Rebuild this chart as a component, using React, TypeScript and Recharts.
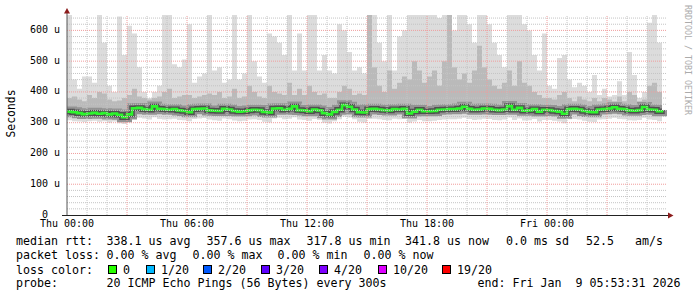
import { ComposedChart, Area, Line, XAxis, YAxis, ReferenceLine } from 'recharts'

// 15 minute slots from Thu 00:00, values in microseconds
const medianRtt = [
  336, 334, 331, 328, 330, 332, 329, 331, 327, 330, 326, 318, 327, 347, 348, 344, 342, 353, 345, 344, 342, 344, 340, 338,
  334, 344, 345, 346, 340, 339, 338, 345, 343, 338, 336, 337, 340, 342, 341, 335, 333, 346, 347, 342, 345, 353, 341, 340,
  337, 343, 340, 331, 327, 335, 342, 357, 352, 343, 334, 333, 344, 345, 343, 341, 340, 344, 343, 345, 330, 336, 342, 337,
  337, 338, 342, 343, 344, 344, 346, 352, 345, 342, 343, 346, 345, 342, 341, 343, 354, 342, 348, 339, 340, 344, 336, 342,
  341, 338, 336, 329, 344, 345, 343, 338, 335, 334, 343, 344, 346, 350, 345, 344, 340, 339, 341, 351, 343, 342, 337, 341
]
const maxRtt = [
  650, 440, 410, 450, 450, 430, 650, 560, 420, 400, 645, 520, 615, 590, 480, 400, 380, 400, 420, 650, 650, 490, 480, 505,
  620, 430, 450, 460, 650, 470, 480, 430, 440, 650, 440, 460, 650, 500, 450, 430, 590, 580, 560, 520, 650, 470, 590, 470,
  650, 650, 470, 520, 470, 460, 620, 600, 530, 470, 480, 460, 650, 650, 560, 500, 650, 470, 580, 600, 650, 650, 650, 650,
  650, 650, 640, 650, 650, 600, 650, 650, 620, 560, 650, 650, 620, 560, 520, 480, 650, 650, 650, 620, 600, 520, 470, 590,
  420, 410, 510, 520, 440, 415, 430, 420, 400, 455, 390, 410, 385, 390, 435, 390, 530, 455, 380, 400, 625, 650, 560, 550
]
const upperRtt = [
  380, 385, 375, 370, 390, 380, 400, 395, 375, 370, 372, 380, 390, 410, 385, 380, 375, 380, 385, 400, 410, 380, 385, 390,
  390, 380, 385, 390, 395, 390, 400, 380, 385, 410, 380, 385, 420, 400, 385, 380, 420, 400, 395, 390, 430, 390, 410, 390,
  420, 400, 390, 395, 380, 380, 400, 420, 410, 390, 395, 390, 650, 480, 420, 400, 470, 410, 430, 450, 440, 500, 470, 430,
  450, 470, 420, 500, 650, 480, 440, 460, 430, 470, 550, 480, 440, 420, 410, 430, 470, 420, 500, 430, 420, 400, 390, 380,
  380, 375, 390, 400, 380, 370, 385, 375, 370, 380, 370, 380, 375, 370, 385, 370, 400, 390, 370, 375, 420, 430, 400, 390
]
const lowRtt = [
  322, 320, 318, 315, 317, 318, 316, 318, 314, 316, 313, 306, 314, 330, 332, 330, 328, 336, 331, 330, 328, 330, 327, 325,
  321, 329, 331, 332, 327, 326, 325, 331, 329, 325, 323, 324, 327, 328, 327, 322, 320, 331, 333, 328, 331, 337, 328, 327,
  324, 329, 327, 318, 315, 322, 328, 340, 337, 330, 322, 320, 330, 331, 329, 328, 327, 330, 329, 331, 318, 323, 328, 324,
  324, 325, 328, 329, 330, 330, 332, 336, 331, 328, 329, 332, 331, 328, 327, 329, 338, 328, 333, 326, 327, 330, 323, 328,
  327, 325, 323, 317, 330, 331, 329, 325, 322, 321, 329, 330, 332, 335, 331, 330, 327, 326, 328, 336, 329, 328, 324, 327
]
const minRtt = [
  308, 305, 304, 302, 305, 306, 303, 305, 300, 304, 298, 296, 302, 312, 316, 314, 310, 318, 312, 310, 311, 313, 309, 308,
  305, 312, 314, 315, 310, 308, 306, 314, 311, 307, 305, 306, 310, 311, 309, 303, 301, 314, 316, 311, 313, 318, 310, 309,
  306, 312, 309, 300, 297, 305, 311, 320, 317, 311, 303, 301, 312, 313, 311, 309, 308, 313, 311, 314, 300, 304, 309, 305,
  305, 306, 309, 310, 311, 311, 313, 316, 312, 309, 310, 313, 312, 309, 308, 310, 317, 309, 314, 307, 308, 312, 304, 309,
  309, 306, 304, 298, 311, 312, 310, 306, 303, 302, 310, 311, 313, 316, 312, 311, 308, 307, 309, 316, 310, 309, 305, 308
]

const xTicks = [0, 6, 12, 18, 24]
const xTickLabels = ['Thu 00:00', 'Thu 06:00', 'Thu 12:00', 'Thu 18:00', 'Fri 00:00']
const yTicks = [0, 100, 200, 300, 400, 500, 600]
// rrdtool keeps the unit column empty for zero
const yTickLabels = ['0\u00a0\u00a0', '100 u', '200 u', '300 u', '400 u', '500 u', '600 u']

const majorX = [3, 6, 9, 12, 15, 18, 21, 24, 27]
const minorX = [1, 2, 4, 5, 7, 8, 10, 11, 13, 14, 16, 17, 19, 20, 22, 23, 25, 26, 28, 29]
const majorY = [100, 200, 300, 400, 500, 600]
const minorY = [20, 40, 60, 80, 120, 140, 160, 180, 220, 240, 260, 280, 320, 340, 360, 380, 420, 440, 460, 480, 520, 540, 560, 580, 620, 640]

const rttStats = ['338.1 us avg', '357.6 us max', '317.8 us min', '341.8 us now', '0.0 ms sd', '52.5', 'am/s']
const lossStats = ['0.00 % avg', '0.00 % max', '0.00 % min', '0.00 % now']
const lossLabels = ['0', '1/20', '2/20', '3/20', '4/20', '10/20', '19/20']
const lossColors = ['#26ff00', '#00b8ff', '#0059ff', '#5e00ff', '#7e00ff', '#dd00ff', '#ff0000']
const endText = 'end: Fri Jan\u00a0\u00a09 05:53:31 2026'

const rttX = [106.5, 206.5, 306.5, 405, 506, 586, 635]
const lossX = [106.5, 192.5, 277.5, 363.5]
const swatchX = [108, 146, 203, 261, 319, 378, 442]

const MONO = '"DejaVu Sans Mono", monospace'

const chartData = medianRtt.map((m, i) => ({
  t: i * 0.25,
  median: m,
  outer: [minRtt[i], maxRtt[i]],
  mid: [lowRtt[i], upperRtt[i]]
}))

function YTick(props: { x: number; y: number; payload: { value: number } }) {
  const { x, y, payload } = props
  return (
    <text x={x} y={y - 1} dy="0.355em" textAnchor="end" fill="#000" fontSize={10} fontFamily={MONO}>
      {yTickLabels[yTicks.indexOf(payload.value)]}
    </text>
  )
}

export default function App(): JSX.Element {
  const tickStyle = { fill: '#000', fontSize: 10, fontFamily: MONO }
  return (
    <div style={{ position: 'absolute', left: 0, top: 0, width: 697, height: 297, background: '#fff' }}>
      <ComposedChart width={697} height={240} data={chartData} margin={{ top: 15, right: 30, bottom: 5, left: 7 }}>
        <XAxis
          dataKey="t"
          type="number"
          domain={[0, 30]}
          ticks={xTicks}
          interval={0}
          tickFormatter={(v: number) => xTickLabels[xTicks.indexOf(v)]}
          axisLine={false}
          tickLine={false}
          tickSize={3}
          tickMargin={2}
          height={20}
          tick={tickStyle}
        />
        <YAxis
          type="number"
          domain={[0, 650]}
          ticks={yTicks}
          interval={0}
          allowDataOverflow
          axisLine={false}
          tickLine={false}
          tickSize={4}
          tickMargin={3}
          width={60}
          tick={YTick}
        />
        <Area type="stepAfter" dataKey="outer" fill="#dcdcdc" fillOpacity={1} stroke="none" isAnimationActive={false} activeDot={false} />
        <Area type="stepAfter" dataKey="mid" fill="#bababa" fillOpacity={1} stroke="none" isAnimationActive={false} activeDot={false} />
        <Line type="stepAfter" dataKey="median" stroke="#939393" strokeWidth={10} dot={false} activeDot={false} isAnimationActive={false} />
        <Line type="stepAfter" dataKey="median" stroke="#505050" strokeWidth={5.5} dot={false} activeDot={false} isAnimationActive={false} />
        <Line type="stepAfter" dataKey="median" stroke="#2cf52c" strokeWidth={2.6} dot={false} activeDot={false} isAnimationActive={false} />
        {minorY.map((v) => (
          <ReferenceLine key={'my' + v} y={v} stroke="#c4c4c4" strokeDasharray="1 1" />
        ))}
        {minorX.map((v) => (
          <ReferenceLine key={'mx' + v} x={v} stroke="#c4c4c4" strokeDasharray="1 1" />
        ))}
        {majorY.map((v) => (
          <ReferenceLine key={'My' + v} y={v} stroke="#f09c9c" strokeDasharray="1 1" />
        ))}
        {majorX.map((v) => (
          <ReferenceLine key={'Mx' + v} x={v} stroke="#f09c9c" strokeDasharray="1 1" />
        ))}
      </ComposedChart>

      <svg width={697} height={297} style={{ position: 'absolute', left: 0, top: 0, pointerEvents: 'none' }}>
        <line x1={67} y1={216} x2={67} y2={12} stroke="#555" strokeWidth={1} />
        <line x1={62} y1={215.5} x2={669} y2={215.5} stroke="#222" strokeWidth={1} />
        <polygon points="64,13.5 70,13.5 67,8" fill="#8c1c1c" />
        <polygon points="668,212.5 668,218.5 673.5,215.5" fill="#8c1c1c" />

        <text
          x={15}
          y={113.5}
          transform="rotate(-90 15 113.5)"
          textAnchor="middle"
          fontFamily={MONO}
          fontSize={11.4}
          fill="#000"
        >
          Seconds
        </text>
        <text x={685} y={5} transform="rotate(90 685 5)" fontFamily={MONO} fontSize={8.3} fill="#ababab">
          RRDTOOL / TOBI OETIKER
        </text>

        <g fontFamily={MONO} fontSize={11.63} fill="#000">
          <text x={16} y={245.3}>median rtt:</text>
          {rttStats.map((s, i) => (
            <text key={s} x={rttX[i]} y={245.3}>
              {s}
            </text>
          ))}
          <text x={16} y={259.3}>packet loss:</text>
          {lossStats.map((s, i) => (
            <text key={s} x={lossX[i]} y={259.3}>
              {s}
            </text>
          ))}
          <text x={16} y={273.5}>loss color:</text>
          {lossLabels.map((s, i) => (
            <g key={s}>
              <rect x={swatchX[i] + 0.5} y={265.5} width={8} height={8} fill={lossColors[i]} stroke="#000" strokeWidth={1} />
              <text x={swatchX[i] + 15} y={273.5}>
                {s}
              </text>
            </g>
          ))}
          <text x={16} y={287.3}>probe:</text>
          <text x={106.5} y={287.3}>20 ICMP Echo Pings (56 Bytes) every 300s</text>
          <text x={477.5} y={287.3}>{endText}</text>
        </g>
      </svg>
    </div>
  )
}
